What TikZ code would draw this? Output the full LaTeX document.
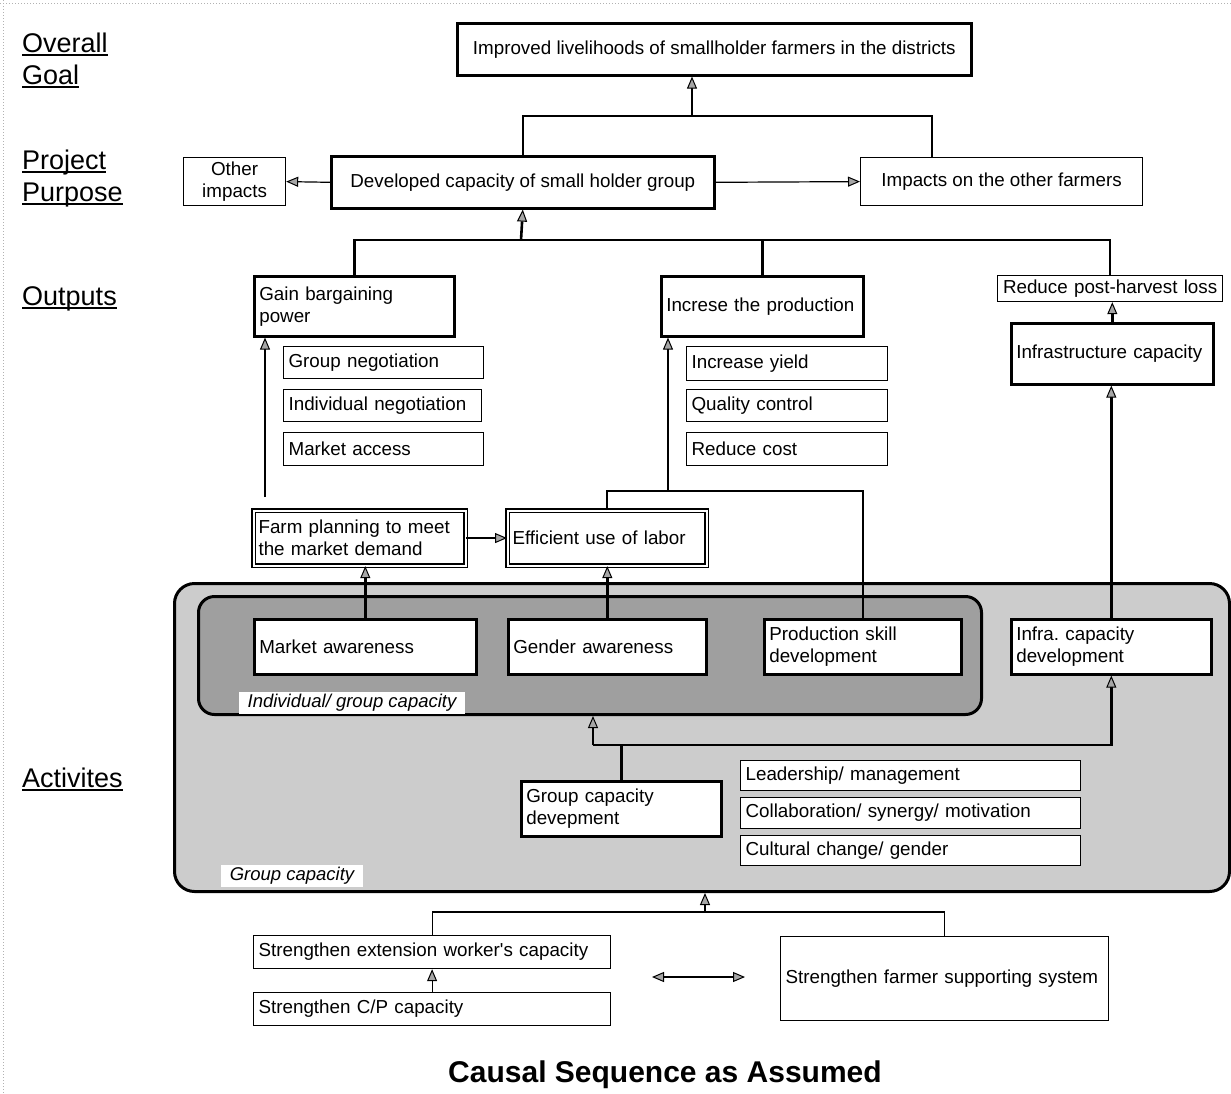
\documentclass[tikz,border=0pt]{standalone}
\usepackage{fontspec}
\setmainfont{Liberation Sans}
\usetikzlibrary{arrows.meta,calc}
\newcommand\myul[1]{\setbox0\hbox{#1}\rlap{\rule[-3.5pt]{\wd0}{1.8pt}}\box0}
\frenchspacing
\begin{document}
\begin{tikzpicture}[x=1pt,y=-1pt,
  base/.style={draw, inner xsep=5pt, inner ysep=0pt, anchor=north west, font=\fontsize{18.8}{22}\selectfont, fill=white},
  thinbox/.style={base, line width=1.2pt},
  thickbox/.style={base, line width=2.6pt},
  dblbox/.style={base, double, double distance=2pt, line width=1.1pt},
  lt/.style={align=left},
  ct/.style={align=center},
  region/.style={draw, line width=3pt, rounded corners=20pt, anchor=north west},
  sidelabel/.style={anchor=base west, font=\fontsize{27}{30}\selectfont, inner sep=0pt},
  regionlabel/.style={fill=white, inner xsep=9pt, inner ysep=2pt, font=\fontsize{18.5}{22}\selectfont\itshape},
  thk/.style={line width=2.6pt},
  thn/.style={line width=1.2pt},
  arr/.style={-{Triangle[width=10pt,length=12pt,fill=gray!70,line width=1pt]}},
  darr/.style={{Triangle[width=10pt,length=12pt,fill=gray!70,line width=1pt]}-{Triangle[width=10pt,length=12pt,fill=gray!70,line width=1pt]}}
]
\useasboundingbox (0,0) rectangle (1231,1093);
\fill[white] (0,0) rectangle (1231,1093);
\draw[gray!60, dotted, line width=1pt] (0,3) -- (1231,3);
\draw[gray!60, dotted, line width=1pt] (3,0) -- (3,1093);

% side labels
\node[sidelabel] (lOverall) at (22,52) {\myul{Overall}};
\node[sidelabel] (lGoal) at (22,84) {\myul{Goal}};
\node[sidelabel] (lProject) at (22,169) {\myul{Project}};
\node[sidelabel] (lPurpose) at (22,201) {\myul{Purpose}};
\node[sidelabel] (lOutputs) at (22,305) {\myul{Outputs}};
\node[sidelabel] (lAct) at (22,787) {\myul{Activites}};

% regions
\node[region, fill=gray!40, minimum width=1055pt, minimum height=308pt] (outer) at (173,582) {};
\node[region, fill=gray!75, rounded corners=16pt, minimum width=783pt, minimum height=118pt] (inner) at (197,595) {};
\node[regionlabel] (ilab) at (352,703) {Individual/ group capacity};
\node[regionlabel] (glab) at (292,876) {Group capacity};

% goal & purpose
\node[thickbox, ct, minimum width=514pt, minimum height=52pt] (goal) at (456,22) {Improved livelihoods of smallholder farmers in the districts};
\node[thickbox, ct, minimum width=383pt, minimum height=52pt] (dev) at (330,155) {Developed capacity of small holder group};
\node[thinbox, ct, minimum width=102pt, minimum height=48pt] (other) at (183,157) {Other\\impacts};
\node[thinbox, ct, minimum width=282pt, minimum height=48pt] (imp) at (860,157) {Impacts on the other farmers};

% outputs
\node[thickbox, lt, text width=190pt, minimum height=60pt] (gain) at (253,275) {Gain bargaining\\power};
\node[thinbox, lt, text width=190pt, minimum height=32pt] (gneg) at (283,346) {Group negotiation};
\node[thinbox, lt, text width=188pt, minimum height=32pt] (ineg) at (283,389) {Individual negotiation};
\node[thinbox, lt, text width=190pt, minimum height=33pt] (macc) at (283,432) {Market access};
\node[thickbox, lt, text width=192pt, minimum height=60pt] (incp) at (660,275) {Increse the production};
\node[thinbox, lt, text width=191pt, minimum height=34pt] (iy) at (686,346) {Increase yield};
\node[thinbox, lt, text width=191pt, minimum height=32pt] (qc) at (686,389) {Quality control};
\node[thinbox, lt, text width=191pt, minimum height=33pt] (rc) at (686,432) {Reduce cost};
\node[thinbox, ct, inner xsep=3pt, text width=219pt, minimum height=26pt] (rphl) at (997,275) {Reduce post-harvest loss};
\node[thickbox, lt, text width=192pt, minimum height=61pt] (infc) at (1010,322) {Infrastructure capacity};

% intermediate
\node[dblbox, lt, text width=202pt, minimum height=55pt] (farm) at (253,510) {Farm planning to meet\\the market demand};
\node[dblbox, lt, text width=189pt, minimum height=55pt] (eff) at (507,510) {Efficient use of labor};

% activities
\node[thickbox, lt, text width=212pt, minimum height=55pt] (mkt) at (253,618) {Market awareness};
\node[thickbox, lt, text width=188pt, minimum height=55pt] (gen) at (507,618) {Gender awareness};
\node[thickbox, lt, text width=187pt, minimum height=55pt] (psd) at (763,618) {Production skill\\development};
\node[thickbox, lt, text width=190pt, minimum height=55pt] (icd) at (1010,618) {Infra. capacity\\development};
\node[thickbox, lt, text width=190pt, minimum height=55pt] (gcd) at (520,780) {Group capacity\\devepment};
\node[thinbox, lt, text width=330pt, minimum height=30pt] (lm) at (740,760) {Leadership/ management};
\node[thinbox, lt, text width=330pt, minimum height=31pt] (col) at (740,797) {Collaboration/ synergy/ motivation};
\node[thinbox, lt, text width=330pt, minimum height=30pt] (cul) at (740,835) {Cultural change/ gender};

% bottom
\node[thinbox, lt, text width=347pt, minimum height=33pt] (sew) at (253,935) {Strengthen extension worker\textquotesingle s capacity};
\node[thinbox, lt, text width=347pt, minimum height=33pt] (scp) at (253,992) {Strengthen C/P capacity};
\node[thinbox, lt, text width=318pt, minimum height=84pt] (sfs) at (780,936) {Strengthen farmer supporting system};

\node[font=\fontsize{30}{34}\selectfont\bfseries] (title) at (665,1075) {Causal Sequence as Assumed};

% connectors: top
\coordinate (g1) at (692,116);
\draw[thk] (dev.north) |- (g1);
\draw[thn] (g1) -| ($(imp.north west)+(72,0)$);
\draw[thk,arr] (g1) -- (g1 |- goal.south);
\draw[thn,arr] (dev.west) -- (other.east);
\draw[thn,arr] (dev.east) -- (imp.west);

% outputs tree
\coordinate (h) at (521,240);
\draw[thk,arr] (h) -- (dev.south);
\draw[thk] (gain.north) |- (rphl.north |- h) -- (rphl.north);
\draw[thk] (incp.north) -- (incp.north |- h);

\coordinate (fa) at (265,497);
\draw[thk,arr] (fa) -- (fa |- gain.south);
\draw[thk,arr] (farm.east) -- (eff.west);
\coordinate (e1) at (668,491);
\draw[thk] (eff.north) |- (e1) -| (psd.north);
\draw[thk,arr] (e1) -- (e1 |- incp.south);
\draw[thk,arr] (infc.north) -- (infc.north |- rphl.south);
\draw[thk,arr] (icd.north) -- (icd.north |- infc.south);

\draw[thk,arr] (mkt.north) -- (mkt.north |- farm.south);
\draw[thk,arr] (gen.north) -- (gen.north |- eff.south);

\coordinate (g2) at (593,745);
\draw[thk] (gcd.north) -- (gcd.north |- g2);
\draw[thk,arr] (g2) -- (g2 |- inner.south);
\draw[thk,arr] (g2) -| (icd.south);

% bottom connectors
\coordinate (b1) at (705,912);
\draw[thk,arr] (b1) -- (b1 |- outer.south);
\draw[thn] (sew.north) |- (sfs.north |- b1) -- (sfs.north);
\draw[thn,arr] (scp.north) -- (sew.south);
\coordinate (da1) at (652,977);
\coordinate (da2) at (745,977);
\draw[thn,darr] (da1) -- (da2);
\end{tikzpicture}
\end{document}
